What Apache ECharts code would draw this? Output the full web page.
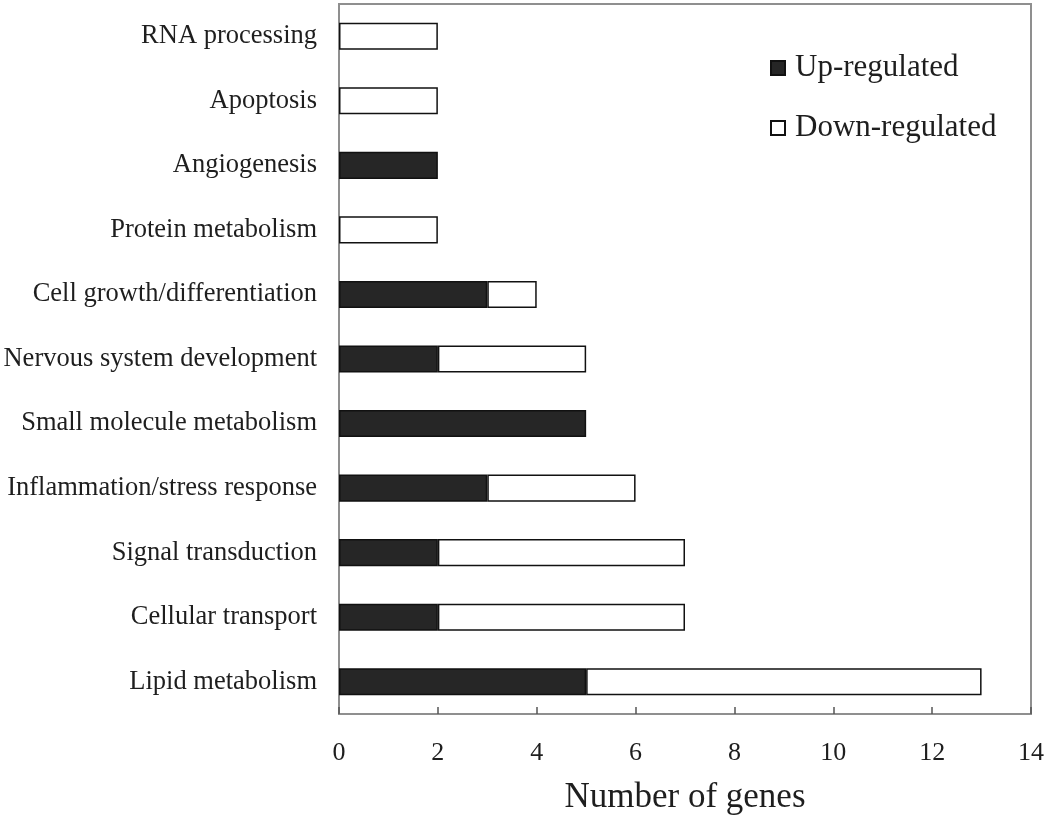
<!DOCTYPE html>
<html><head><meta charset="utf-8">
<script src="https://cdn.jsdelivr.net/npm/echarts@6/dist/echarts.min.js"></script>
<style>html,body{margin:0;padding:0;background:#fff}#c{width:1050px;height:815px}</style>
</head><body><div id="c"></div>
<script>
const categories = ["Lipid metabolism","Cellular transport","Signal transduction","Inflammation/stress response","Small molecule metabolism","Nervous system development","Cell growth/differentiation","Protein metabolism","Angiogenesis","Apoptosis","RNA processing"];
const upRegulated = [5,2,2,3,5,2,3,0,2,0,0];
const downRegulated = [8,5,5,3,0,3,1,2,0,2,2];
const xTicks = {min:0,max:14,interval:2};

const font = '"Liberation Serif","Times New Roman",serif';
const nz = a => a.map(v => v === 0 ? null : v);
const chart = echarts.init(document.getElementById('c'));
chart.setOption({
  animation:false,
  backgroundColor:'#fff',
  grid:{left:339,right:19,top:4,bottom:101,show:true,borderColor:'#8f8f8f',borderWidth:2,containLabel:false,outerBoundsMode:'none'},
  legend:{orient:'vertical',left:770,top:52,itemWidth:14,itemHeight:14,itemGap:28,padding:0,
    textStyle:{fontFamily:font,fontSize:31,lineHeight:32,color:'#1e1e1e',padding:[0,0,0,5]},icon:'rect',
    data:['Up-regulated','Down-regulated']},
  xAxis:{type:'value',min:xTicks.min,max:xTicks.max,interval:xTicks.interval,
    name:'Number of genes',nameLocation:'middle',nameGap:66,
    nameTextStyle:{fontFamily:font,fontSize:35,color:'#1e1e1e'},
    axisLine:{show:true,lineStyle:{color:'#8f8f8f',width:2}},
    axisTick:{show:true,inside:true,length:7,lineStyle:{color:'#555',width:1.5}},
    axisLabel:{fontFamily:font,fontSize:26,color:'#1e1e1e',margin:26},
    splitLine:{show:false}},
  yAxis:{type:'category',data:categories,
    axisLine:{show:true,lineStyle:{color:'#8f8f8f',width:2}},
    axisTick:{show:false},
    axisLabel:{fontFamily:font,fontSize:26.5,color:'#1e1e1e',margin:22}},
  series:[
    {name:'Up-regulated',type:'bar',stack:'a',data:nz(upRegulated),barWidth:'42%',
     itemStyle:{color:'#262626',borderColor:'#111',borderWidth:1.5}},
    {name:'Down-regulated',type:'bar',stack:'a',data:nz(downRegulated),barWidth:'42%',
     itemStyle:{color:'#fff',borderColor:'#111',borderWidth:1.5}}
  ]
});
</script></body></html>
